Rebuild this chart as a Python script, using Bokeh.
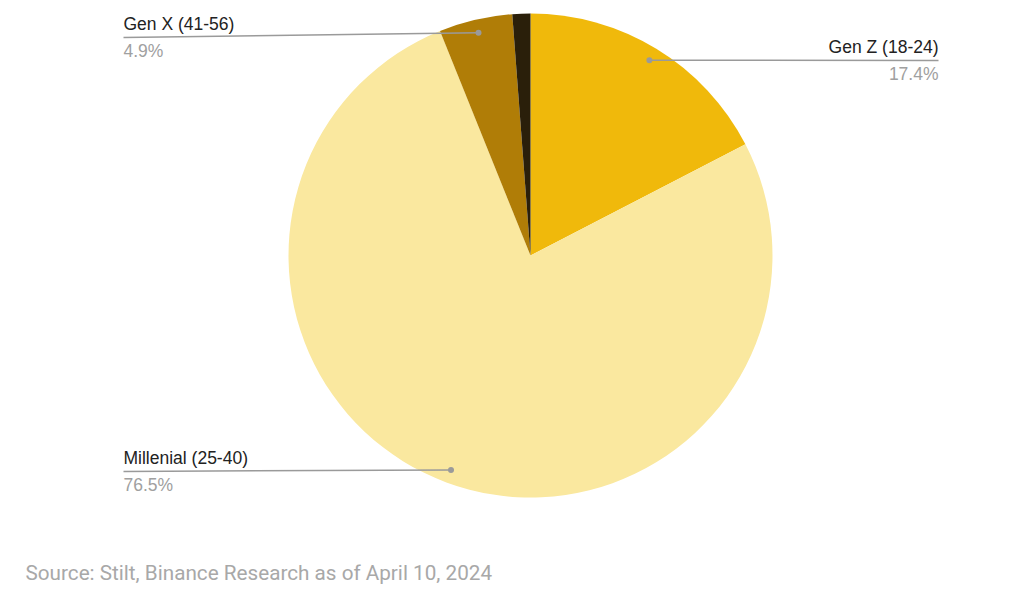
import math
from bokeh.plotting import figure
from bokeh.models import Range1d, ColumnDataSource
from bokeh.core.properties import value
from bokeh.embed import file_html
from bokeh.resources import INLINE

labels = ["Gen Z (18-24)", "Millenial (25-40)", "Gen X (41-56)", "Boomer (57+)"]
shares = [17.4, 76.5, 4.9, 1.2]
colors = ["#F0B90B", "#FAE89F", "#B07D07", "#2A1F0A"]
pct_labels = ["17.4%", "76.5%", "4.9%", ""]

W, H = 1024, 592
p = figure(width=W, height=H, x_range=Range1d(0, W), y_range=Range1d(0, H),
           output_backend="svg", toolbar_location=None)
p.axis.visible = False
p.grid.visible = False
p.outline_line_color = None
p.background_fill_color = "white"
p.border_fill_color = "white"
p.min_border = 0

cx, cy, r = 530, H - 255, 242
total = sum(shares)
starts, ends, mids = [], [], []
cum = 0.0
for s in shares:
    a0 = math.pi / 2 - 2 * math.pi * cum / total
    cum += s
    a1 = math.pi / 2 - 2 * math.pi * cum / total
    starts.append(a0)
    ends.append(a1)
    mids.append((a0 + a1) / 2)

src = ColumnDataSource(dict(start=starts, end=ends, color=colors))
p.wedge(x=cx, y=cy, radius=r, start_angle="start", end_angle="end",
        direction="clock", fill_color="color", line_color=None, source=src)

# leader lines and labels: (label end x, label end y, align)
label_pos = {0: (938, H - 60, "right"), 1: (123, H - 471, "left"), 2: (123, H - 37, "left")}
for i, (lx, ly, al) in label_pos.items():
    dx = cx + 0.945 * r * math.cos(mids[i])
    dy = cy + 0.945 * r * math.sin(mids[i])
    p.line([dx, lx], [dy, ly], line_color="#9a9a9a", line_width=1.5)
    p.scatter([dx], [dy], size=6, fill_color="#9a9a9a", line_color=None)
    p.text([lx], [ly + 4], text=[labels[i]], text_align=al, text_baseline="bottom",
           text_font=value("Liberation Sans"), text_font_size="17.5px", text_color="#222222")
    p.text([lx], [ly - 3], text=[pct_labels[i]], text_align=al, text_baseline="top",
           text_font=value("Liberation Sans"), text_font_size="17.5px", text_color="#a0a0a0")

p.text([25], [H - 572], text=["Source: Stilt, Binance Research as of April 10, 2024"],
       text_align="left", text_baseline="middle", text_font=value("Roboto"),
       text_font_size="20.7px", text_color="#a8a8a8")

open("out.html", "w").write(file_html(p, INLINE))
